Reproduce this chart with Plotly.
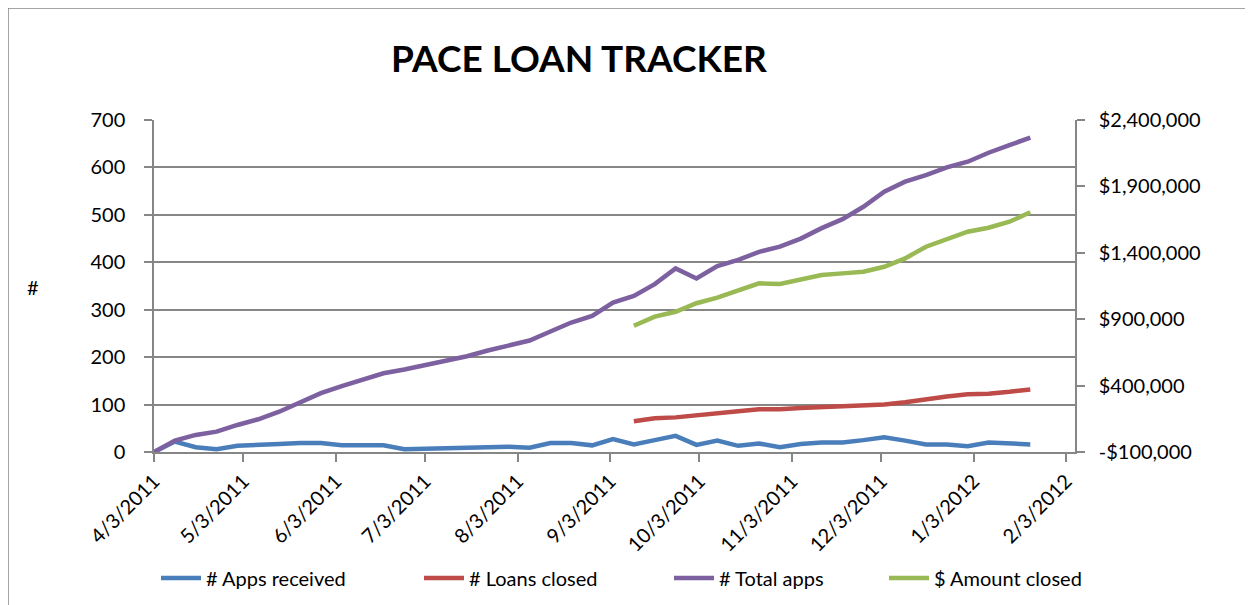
import plotly.graph_objects as go

dates = ["2011-04-03", "2011-04-10", "2011-04-17", "2011-04-24", "2011-05-01", "2011-05-08",
         "2011-05-15", "2011-05-22", "2011-05-29", "2011-06-05", "2011-06-12", "2011-06-19",
         "2011-06-26", "2011-07-03", "2011-07-10", "2011-07-17", "2011-07-24", "2011-07-31",
         "2011-08-07", "2011-08-14", "2011-08-21", "2011-08-28", "2011-09-04", "2011-09-11",
         "2011-09-18", "2011-09-25", "2011-10-02", "2011-10-09", "2011-10-16", "2011-10-23",
         "2011-10-30", "2011-11-06", "2011-11-13", "2011-11-20", "2011-11-27", "2011-12-04",
         "2011-12-11", "2011-12-18", "2011-12-25", "2012-01-01", "2012-01-08", "2012-01-15",
         "2012-01-22"]

apps_received = [0, 22, 10, 6, 13, 14, 17, 19, 19, 14, 14, 14, 6, 6, 8, 9, 11, 11, 9, 19, 19, 14,
                 27, 16, 25, 34, 15, 24, 13, 18, 10, 17, 20, 20, 25, 31, 24, 16, 16, 12, 20, 18, 16]

total_apps = [0, 24, 36, 43, 57, 69, 85, 104, 124, 139, 153, 166, 174, 183, 193, 202, 214, 225,
              235, 254, 273, 287, 315, 329, 354, 387, 366, 392, 405, 422, 433, 450, 472, 491,
              517, 549, 570, 584, 600, 612, 631, 647, 663]

closed_dates = dates[23:]
loans_closed = [65, 71, 73, 78, 83, 86, 90, 90, 93, 95, 97, 98, 100, 105, 112, 117, 122, 123,
                127, 132]
amount_closed = [851000, 919000, 956000, 1020000, 1062000, 1120000, 1170000, 1165000, 1203000,
                 1233000, 1245000, 1258000, 1295000, 1358000, 1446000, 1501000, 1559000,
                 1589000, 1634000, 1705000]

x_tickvals = ["2011-04-03", "2011-05-03", "2011-06-03", "2011-07-03", "2011-08-03", "2011-09-03",
              "2011-10-03", "2011-11-03", "2011-12-03", "2012-01-03", "2012-02-03"]
x_ticktext = ["4/3/2011", "5/3/2011", "6/3/2011", "7/3/2011", "8/3/2011", "9/3/2011",
              "10/3/2011", "11/3/2011", "12/3/2011", "1/3/2012", "2/3/2012"]
left_ticks = [0, 100, 200, 300, 400, 500, 600, 700]
right_ticks = [-100000, 400000, 900000, 1400000, 1900000, 2400000]
right_ticktext = ["-$100,000", "$400,000", "$900,000", "$1,400,000", "$1,900,000", "$2,400,000"]

FONT = "Lato, Calibri, Carlito, sans-serif"
GREY = "#868686"
LW = 4.5

# page-pixel helpers (figure sits at an 8px body offset)
W, H = 1245, 597
PL, PR, PT, PB = 154, 1075, 120, 452
def px(X):
    return (X - PL) / (PR - PL)
def py(Y):
    return (PB - Y) / (PB - PT)
def cx(X):
    return (X - 8) / W
def cy(Y):
    return 1 - (Y - 8) / H

fig = go.Figure()
fig.add_trace(go.Scatter(x=dates, y=apps_received, mode="lines", name="# Apps received",
                         line=dict(color="#4A7EBB", width=LW), legend="legend"))
fig.add_trace(go.Scatter(x=closed_dates, y=loans_closed, mode="lines", name="# Loans closed",
                         line=dict(color="#BE4B48", width=LW), legend="legend2"))
fig.add_trace(go.Scatter(x=dates, y=total_apps, mode="lines", name="# Total apps",
                         line=dict(color="#7D60A0", width=LW), legend="legend3"))
fig.add_trace(go.Scatter(x=closed_dates, y=amount_closed, mode="lines", name="$ Amount closed",
                         line=dict(color="#98B954", width=LW), yaxis="y2", legend="legend4"))

def leg(text_x):
    return dict(orientation="h", xref="container", yref="container",
                x=cx(text_x - 51), xanchor="left", y=cy(578), yanchor="middle",
                font=dict(size=20), itemwidth=40, bgcolor="rgba(0,0,0,0)")

fig.update_layout(
    width=W, height=H,
    margin=dict(l=146, r=178, t=112, b=153, autoexpand=False),
    paper_bgcolor="white", plot_bgcolor="white",
    font=dict(family=FONT, size=20, color="black"),
    showlegend=True,
    legend=leg(207), legend2=leg(470), legend3=leg(720), legend4=leg(935),
    xaxis=dict(type="date", range=["2011-04-03", "2012-02-06"], tickvals=x_tickvals,
               ticktext=x_ticktext, tickangle=-45, ticks="outside", ticklen=8, tickwidth=1.5,
               tickcolor=GREY, showline=True, linecolor=GREY, linewidth=1.5, showgrid=False,
               zeroline=False, tickfont=dict(size=20), automargin=False),
    yaxis=dict(range=[0, 700], tickvals=left_ticks, ticks="outside", ticklen=8, tickwidth=1.5,
               tickcolor=GREY, showline=True, linecolor=GREY, linewidth=1.5, showgrid=True,
               gridcolor=GREY, gridwidth=1.5, zeroline=False, tickfont=dict(size=20),
               ticklabelstandoff=15, automargin=False),
    yaxis2=dict(range=[-100000, 2400000], tickvals=right_ticks, ticktext=right_ticktext,
                overlaying="y", side="right", ticks="outside", ticklen=8, tickwidth=1.5,
                tickcolor=GREY, showline=True, linecolor=GREY, linewidth=1.5, showgrid=False,
                zeroline=False, tickfont=dict(size=20), ticklabelstandoff=10, automargin=False),
    annotations=[
        dict(text="<b>PACE LOAN TRACKER</b>", xref="paper", yref="paper",
             x=px(579), y=py(58), xanchor="center", yanchor="middle",
             showarrow=False, font=dict(size=37, family=FONT)),
        dict(text="#", xref="paper", yref="paper", x=px(33), y=py(287),
             xanchor="center", yanchor="middle", showarrow=False, font=dict(size=20)),
    ],
    shapes=[
        dict(type="rect", xref="paper", yref="paper", x0=px(8), x1=px(1270),
             y0=py(620), y1=py(8),
             line=dict(color=GREY, width=1.5), fillcolor="rgba(0,0,0,0)", layer="below"),
    ],
)

fig.write_html("out.html")
